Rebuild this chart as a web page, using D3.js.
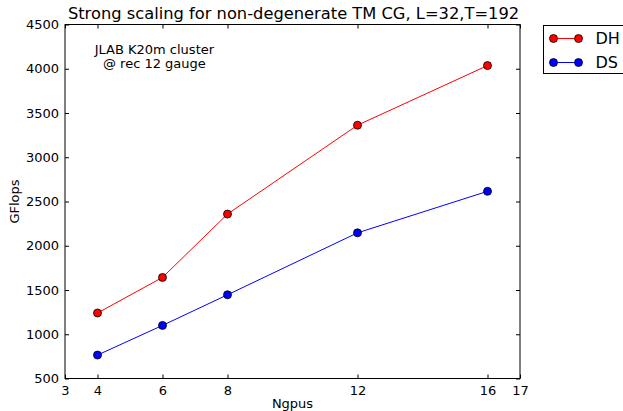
<!DOCTYPE html>
<html>
<head>
<meta charset="utf-8">
<script src="https://cdn.jsdelivr.net/npm/d3@7"></script>
<style>
  body { margin: 0; background: #fff; }
  text { font-family: "DejaVu Sans", sans-serif; }
</style>
</head>
<body>
<div id="chart"></div>
<script>
// donnees
var ngpus = [4, 6, 8, 12, 16];
var dh = [1240, 1642, 2358, 3362, 4036];
var ds = [765, 1100, 1446, 2146, 2615];
var xTicks = [3, 4, 6, 8, 12, 16, 17];
var yTicks = [500, 1000, 1500, 2000, 2500, 3000, 3500, 4000, 4500];
var seriesNames = ["DH", "DS"];
var seriesColors = ["#ff0000", "#0000ff"];

var W = 623, H = 411;
var margin = {top: 24.5, right: 103, bottom: 32.5, left: 65},
    width = W - margin.left - margin.right,
    height = H - margin.top - margin.bottom;

var svg = d3.select("#chart").append("svg")
    .attr("width", W)
    .attr("height", H);

var g = svg.append("g")
    .attr("transform", "translate(" + margin.left + "," + margin.top + ")");

var x = d3.scaleLinear().domain([3, 17]).range([0, width]);
var y = d3.scaleLinear().domain([500, 4500]).range([height, 0]);

// axes (ticks vers l'interieur, comme matplotlib)
function styleAxis(sel, labels) {
    sel.select(".domain").remove();
    sel.selectAll(".tick line").attr("stroke", "#000");
    sel.selectAll(".tick text").attr("fill", "#000")
        .style("font-size", "13px").style("font-family", "DejaVu Sans, sans-serif");
    if (!labels) sel.selectAll(".tick text").remove();
}

g.append("g")
    .attr("transform", "translate(0," + height + ")")
    .call(d3.axisBottom(x).tickValues(xTicks).tickFormat(d3.format("d")).tickSizeInner(-4).tickSizeOuter(0).tickPadding(7))
    .call(styleAxis, true);

g.append("g")
    .call(d3.axisTop(x).tickValues(xTicks).tickSizeInner(-4).tickSizeOuter(0))
    .call(styleAxis, false);

g.append("g")
    .call(d3.axisLeft(y).tickValues(yTicks).tickFormat(d3.format("d")).tickSizeInner(-4).tickSizeOuter(0).tickPadding(6))
    .call(styleAxis, true);

g.append("g")
    .attr("transform", "translate(" + width + ",0)")
    .call(d3.axisRight(y).tickValues(yTicks).tickSizeInner(-4).tickSizeOuter(0))
    .call(styleAxis, false);

// cadre
g.append("rect")
    .attr("x", 0).attr("y", 0)
    .attr("width", width).attr("height", height)
    .attr("fill", "none")
    .attr("stroke", "#000")
    .attr("stroke-width", 1);

// courbes
var series = [dh, ds];
var line = d3.line()
    .x(function(d, i) { return x(ngpus[i]); })
    .y(function(d) { return y(d); });

series.forEach(function(vals, k) {
    g.append("path")
        .datum(vals)
        .attr("fill", "none")
        .attr("stroke", seriesColors[k])
        .attr("stroke-width", 1)
        .attr("d", line);

    g.selectAll(".dot" + k)
        .data(vals)
        .enter().append("circle")
        .attr("cx", function(d, i) { return x(ngpus[i]); })
        .attr("cy", function(d) { return y(d); })
        .attr("r", 4)
        .attr("fill", seriesColors[k])
        .attr("stroke", "#000")
        .attr("stroke-width", 0.8);
});

// annotation
g.append("text")
    .attr("x", x(5.75)).attr("y", 29.5)
    .attr("text-anchor", "middle")
    .style("font-size", "13px")
    .text("JLAB K20m cluster");
g.append("text")
    .attr("x", x(5.75)).attr("y", 43.5)
    .attr("text-anchor", "middle")
    .style("font-size", "13px")
    .text("@ rec 12 gauge");

// titre et labels
svg.append("text")
    .attr("x", margin.left + width / 2 + 1).attr("y", 19)
    .attr("text-anchor", "middle")
    .style("font-size", "16.3px")
    .text("Strong scaling for non-degenerate TM CG, L=32,T=192");

svg.append("text")
    .attr("x", margin.left + width / 2).attr("y", 408)
    .attr("text-anchor", "middle")
    .style("font-size", "13px")
    .text("Ngpus");

svg.append("text")
    .attr("transform", "translate(19," + (margin.top + height / 2) + ") rotate(-90)")
    .attr("text-anchor", "middle")
    .style("font-size", "13px")
    .text("GFlops");

// legende
var leg = svg.append("g").attr("transform", "translate(543.5,25.5)");
leg.append("rect")
    .attr("width", 90).attr("height", 48)
    .attr("fill", "#fff").attr("stroke", "#000").attr("stroke-width", 1);

var items = leg.selectAll(".legend")
    .data(seriesNames)
    .enter().append("g")
    .attr("class", "legend")
    .attr("transform", function(d, i) { return "translate(0," + (13 + i * 24) + ")"; });

items.append("line")
    .attr("x1", 10).attr("x2", 35)
    .attr("stroke", function(d, i) { return seriesColors[i]; })
    .attr("stroke-width", 1);
items.selectAll("circle")
    .data(function(d, i) { return [[10, i], [35, i]]; })
    .enter().append("circle")
    .attr("cx", function(d) { return d[0]; })
    .attr("r", 4)
    .attr("fill", function(d) { return seriesColors[d[1]]; })
    .attr("stroke", "#000").attr("stroke-width", 0.8);
items.append("text")
    .attr("x", 52).attr("dy", "0.36em")
    .style("font-size", "16px")
    .text(function(d) { return d; });
</script>
</body>
</html>
